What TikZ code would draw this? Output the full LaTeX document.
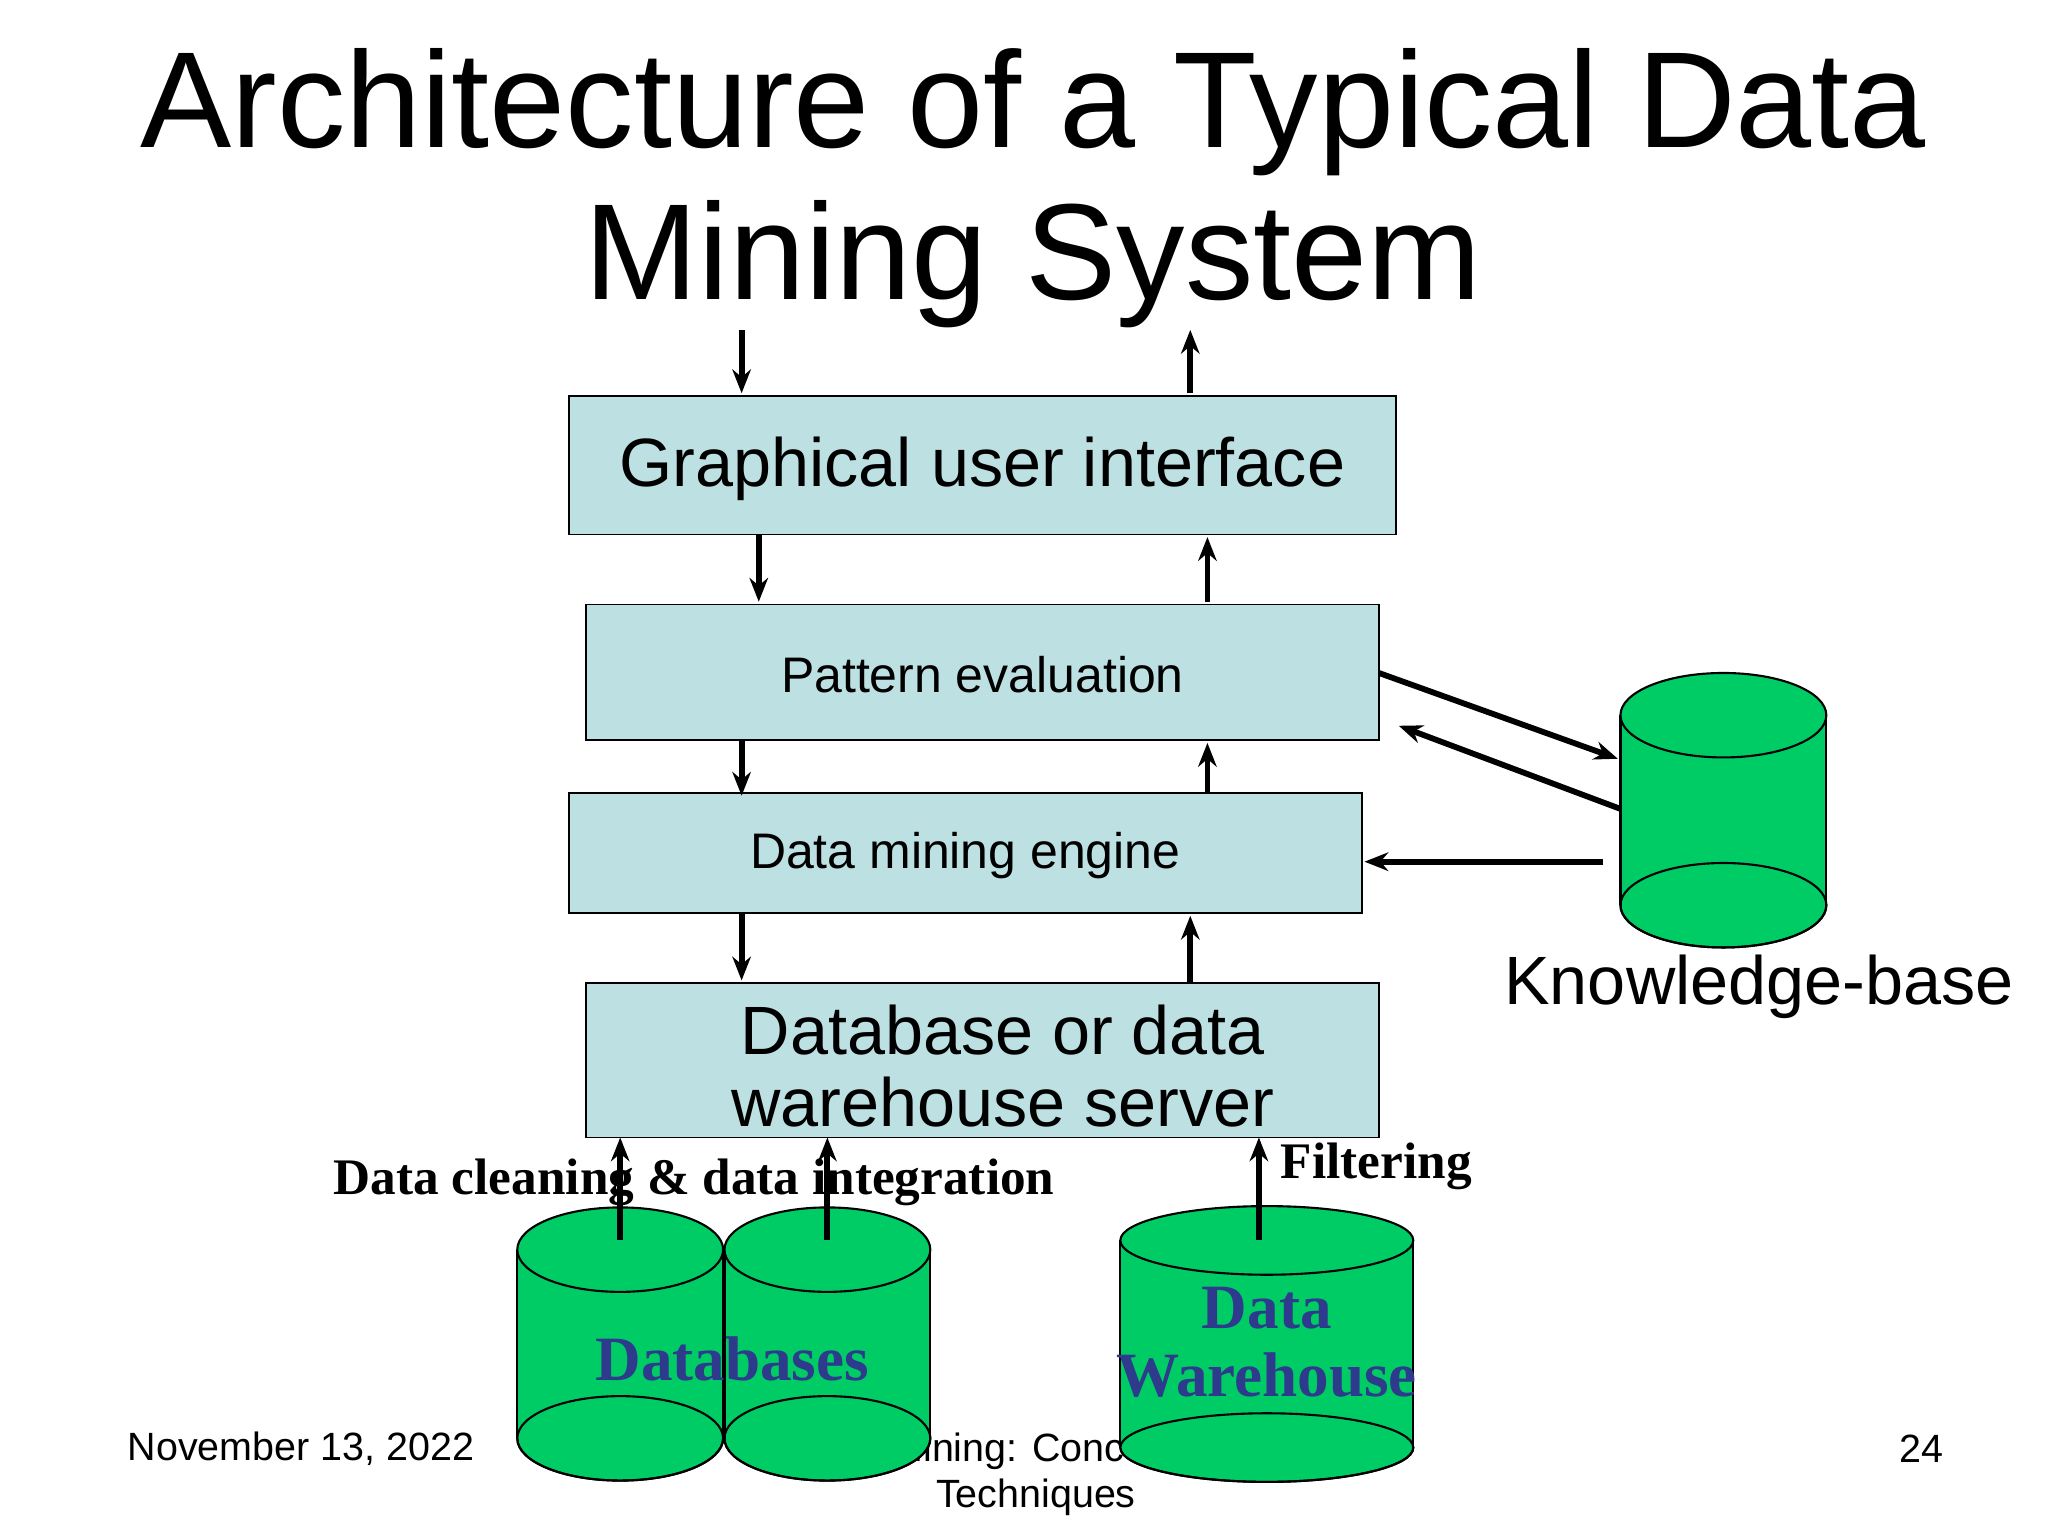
\documentclass[tikz,border=0pt]{standalone}
\usepackage{fontspec}
\setmainfont{Liberation Sans}
\newfontfamily\tms{Liberation Serif}
\usetikzlibrary{arrows.meta}
\definecolor{boxc}{HTML}{BDE0E3}
\definecolor{cylc}{HTML}{00CC66}
\definecolor{dbt}{HTML}{2E3A8C}
\begin{document}
\begin{tikzpicture}[x=0.5bp,y=-0.5bp,
 box/.style={draw=black,fill=boxc,line width=0.6bp},
 ar/.style={line width=2.2bp,-{Stealth[length=9bp,width=7bp]}},
 lbl/.style={inner sep=0,align=center}]
\useasboundingbox (0,0) rectangle (1552,1164);
\fill[white] (0,0) rectangle (1552,1164);
\node[lbl,font=\fontsize{52}{60}\selectfont] (t1) at (783,85) {Architecture of a Typical Data};
\node[lbl,font=\fontsize{52}{60}\selectfont] (t2) at (783,200) {Mining System};
% boxes
\draw[box] (431,300) rectangle (1058,405);
\node[lbl,font=\fontsize{26}{30}\selectfont] (gui) at (744.5,355) {Graphical user interface};
\draw[box] (444,458) rectangle (1045,561);
\node[lbl,font=\fontsize{19}{23}\selectfont] (pe) at (744.5,511) {Pattern evaluation};
\draw[box] (431,601) rectangle (1032,692);
\node[lbl,font=\fontsize{19}{23}\selectfont] (dme) at (731.5,648) {Data mining engine};
\draw[box] (444,745) rectangle (1045,862);
\node[lbl,font=\fontsize{26}{27.5}\selectfont] (dbs) at (760,808) {Database or data\\warehouse server};
% footer
\node[lbl,font=\fontsize{15}{17}\selectfont] (date) at (228,1098) {November 13, 2022};
\node[lbl,font=\fontsize{15}{17.5}\selectfont] (foot) at (785,1117) {Data Mining: Concepts and\\Techniques};
\node[lbl,font=\fontsize{15}{17}\selectfont] (pg) at (1456,1098) {24};
% cylinders
\newcommand{\cyl}[5]{% xl xr ytop ybot ry
 \fill[cylc] (#1,#3) rectangle (#2,#4);
 \draw[line width=0.8bp,fill=cylc] ({(#1+#2)/2},#4) ellipse [x radius={(#2-#1)/2}, y radius=#5];
 \fill[cylc] (#1,#3) rectangle (#2,#4);
 \draw[line width=0.8bp] (#1,#3) -- (#1,#4) (#2,#3) -- (#2,#4);
 \draw[line width=0.8bp,fill=cylc] ({(#1+#2)/2},#3) ellipse [x radius={(#2-#1)/2}, y radius=#5];
 \draw[line width=0.8bp] ({(#1+#2)/2},#4) ellipse [x radius={(#2-#1)/2}, y radius=#5];}
\cyl{392}{548}{947}{1090}{32}
\cyl{549}{705}{947}{1090}{32}
\cyl{849}{1071}{940}{1097}{26}
\cyl{1228}{1384}{542}{686}{32}
\node[lbl,font=\tms\bfseries\fontsize{24}{28}\selectfont,text=dbt] (dbl) at (555,1030) {Databases};
\node[lbl,font=\tms\bfseries\fontsize{24}{26}\selectfont,text=dbt] (dwl) at (960,1017) {Data\\Warehouse};
\node[lbl,font=\fontsize{26}{30}\selectfont] (kb) at (1333,748) {Knowledge-base};
\node[lbl,font=\tms\bfseries\fontsize{19.5}{22}\selectfont] (dc) at (526,896) {Data cleaning \& data integration};
\node[lbl,font=\tms\bfseries\fontsize{19.5}{22}\selectfont] (fl) at (1043,884) {Filtering};
% arrows
\coordinate (a1) at (562,250); \coordinate (a2) at (562,298);
\coordinate (b1) at (902,298); \coordinate (b2) at (902,250);
\draw[ar] (a1) -- (a2); \draw[ar] (b1) -- (b2);
\draw[ar] (575,405) -- (575,456); \draw[ar] (915,456) -- (915,407);
\draw[ar] (562,561) -- (562,603); \draw[ar] (915,601) -- (915,563);
\draw[ar] (562,692) -- (562,743); \draw[ar] (902,745) -- (902,694);
\draw[ar] (1045,510) -- (1226,575); \draw[ar] (1228,613) -- (1060,550);
\draw[ar] (1215,653) -- (1034,653);
\draw[ar] (470,940) -- (470,862); \draw[ar] (627,940) -- (627,862); \draw[ar] (954,940) -- (954,862);
\end{tikzpicture}
\end{document}
